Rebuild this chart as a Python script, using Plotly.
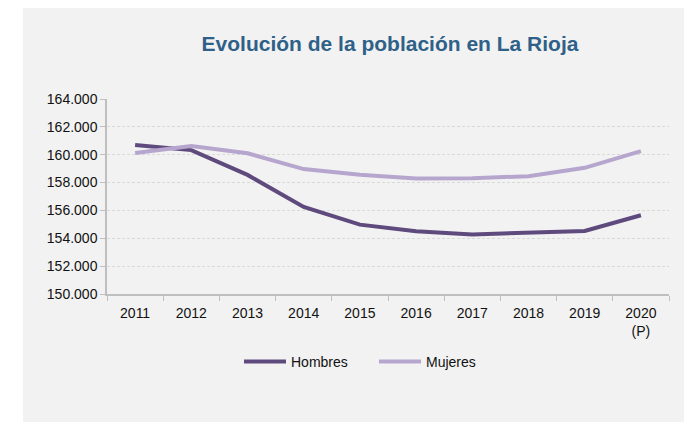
import plotly.graph_objects as go

years = ["2011", "2012", "2013", "2014", "2015", "2016", "2017", "2018", "2019", "2020<br>(P)"]
hombres = [160700, 160330, 158550, 156250, 154980, 154500, 154280, 154400, 154520, 155650]
mujeres = [160130, 160620, 160100, 158970, 158560, 158290, 158310, 158460, 159060, 160260]

fig = go.Figure()

fig.add_trace(go.Scatter(
    x=years, y=hombres, name="Hombres", mode="lines",
    line=dict(color="#5F4A7D", width=4)
))
fig.add_trace(go.Scatter(
    x=years, y=mujeres, name="Mujeres", mode="lines",
    line=dict(color="#B6A6CE", width=4)
))

# page has an 8px body margin, so figure coords = picture coords - 8
W, H = 684, 414
L, R, T, B = 99, 661, 91, 286
pw, ph = R - L, B - T

# gray panel behind the chart
fig.add_shape(type="rect", xref="paper", yref="paper",
              x0=(15 - L) / pw, x1=(W - L) / pw,
              y0=(B - H) / ph, y1=B / ph,
              fillcolor="#F2F2F2", line_width=0, layer="below")

fig.update_layout(
    width=W, height=H,
    paper_bgcolor="white",
    plot_bgcolor="#F2F2F2",
    margin=dict(l=L, r=W - R, t=T, b=H - B, autoexpand=False),
    separators=",.",
    font=dict(family="Arial, Liberation Sans", size=14, color="#111111"),
    title=dict(
        text="<b>Evolución de la población en La Rioja</b>",
        font=dict(size=21, color="#2F6188"),
        x=382 / W, xanchor="center", xref="container",
        y=1 - 36 / H, yanchor="middle", yref="container"
    ),
    showlegend=True,
    legend=dict(
        orientation="h", x=(231 - L) / pw, xanchor="left",
        y=(B - 354) / ph, yanchor="middle", bgcolor="rgba(0,0,0,0)",
        font=dict(size=14, color="#111111"),
        itemwidth=42, entrywidth=78
    ),
    xaxis=dict(
        range=[-0.5, 9.5],
        showline=True, linecolor="#BFBFBF", linewidth=1.5,
        ticks="outside", tickson="boundaries", ticklen=5, tickcolor="#BFBFBF",
        ticklabelstandoff=5, tickangle=0, showgrid=False
    ),
    yaxis=dict(
        range=[150000, 164000], dtick=2000, tickformat=",d",
        showline=True, linecolor="#BFBFBF", linewidth=1.5,
        ticks="outside", ticklen=5, tickcolor="#BFBFBF",
        showgrid=True, gridcolor="#D9D9D9", griddash="3px,2px", gridwidth=1,
        zeroline=False
    ),
)

fig.write_html("out.html")
